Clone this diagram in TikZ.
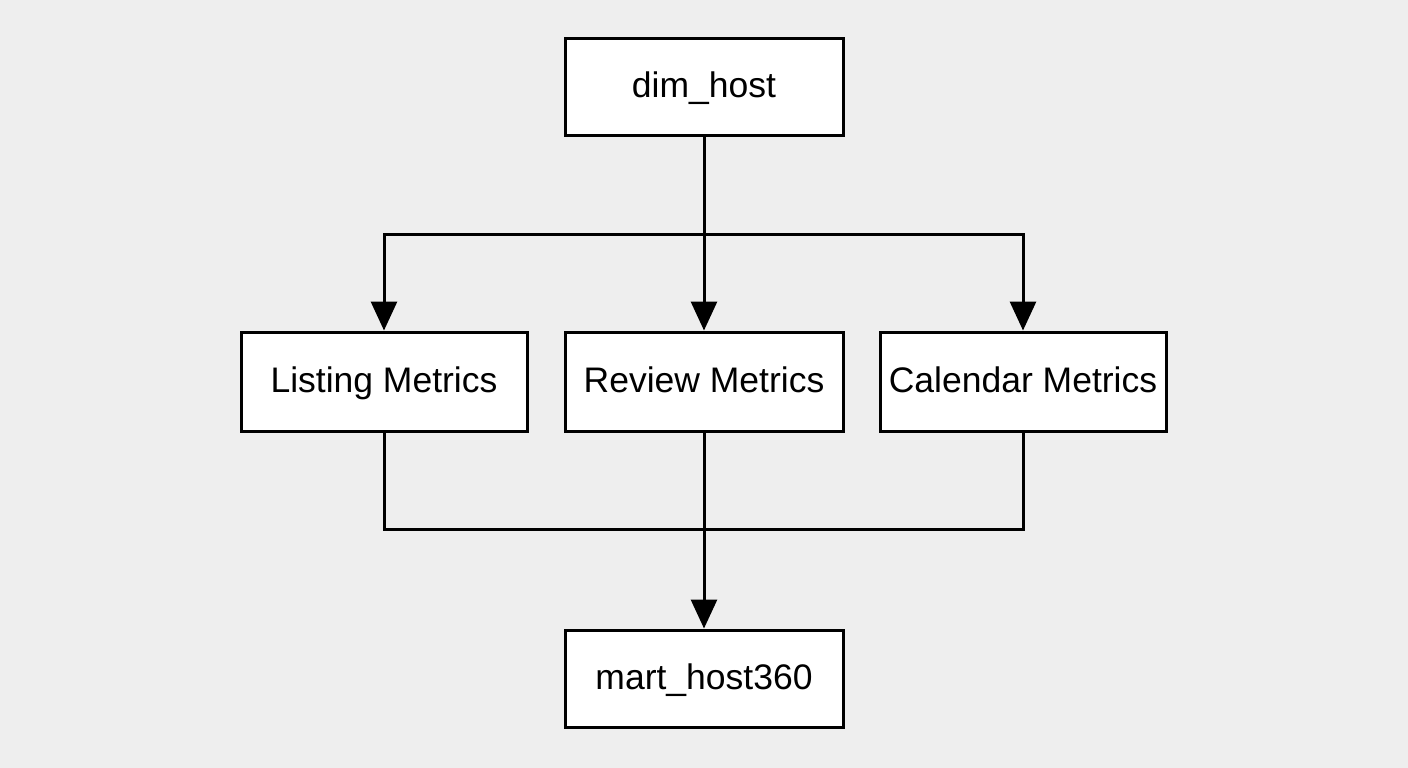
\documentclass[tikz,border=0pt]{standalone}
\usepackage{fontspec}
\setmainfont{Liberation Sans}
\usetikzlibrary{arrows.meta}
\definecolor{bgc}{RGB}{238,238,238}
\begin{document}
\begin{tikzpicture}[x=1pt,y=-1pt,
  box/.style={draw=black, fill=white, line width=3pt, minimum width=278pt, minimum height=97pt, inner sep=0pt, text height=26pt, text depth=5pt, font=\fontsize{35.5}{42}\selectfont},
  wide/.style={box, minimum width=286pt, minimum height=99pt},
  conn/.style={line width=3pt, black},
  arr/.style={conn, -{Triangle[width=26pt,length=29pt]}}
]
\fill[bgc] (0,0) rectangle (1408,768);
\useasboundingbox (0,0) rectangle (1408,768);
\node[box] (dim) at (704,87) {dim\_host};
\node[wide] (list) at (384,381.5) {Listing Metrics};
\node[box, minimum height=99pt] (rev) at (704,381.5) {Review Metrics};
\node[wide] (cal) at (1023,381.5) {Calendar Metrics};
\node[box] (mart) at (704,678.5) {mart\_host360};
\coordinate (busTop) at (704,234);
\coordinate (busBot) at (704,529);
\draw[arr] (dim.south) -- (rev.north);
\draw[arr] (busTop) -| (list.north);
\draw[arr] (busTop) -| (cal.north);
\draw[conn] (list.south) |- (busBot) -| (cal.south);
\draw[arr] (rev.south) -- (mart.north);
\end{tikzpicture}
\end{document}
